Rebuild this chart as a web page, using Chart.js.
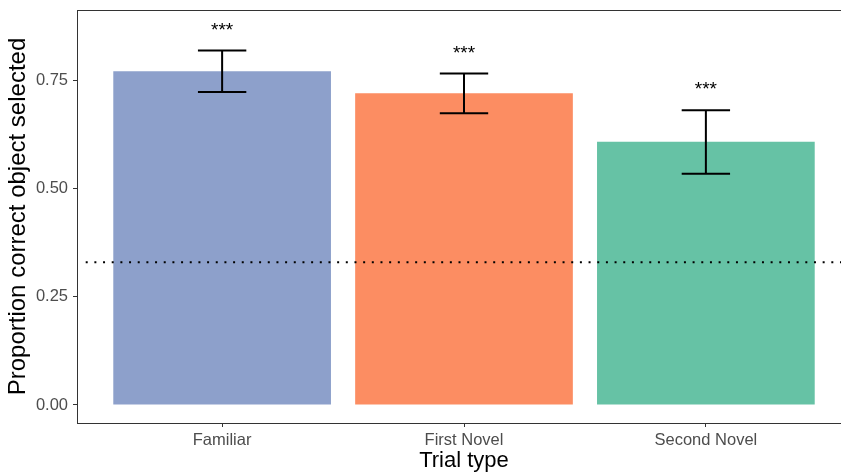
<!DOCTYPE html>
<html>
<head>
<meta charset="utf-8">
<script src="https://cdn.jsdelivr.net/npm/chart.js@4.4.1/dist/chart.umd.min.js"></script>
<style>
  html, body { margin: 0; padding: 0; overflow: hidden; background: #fff; }
  #wrap { width: 860px; height: 476px; position: relative; }
</style>
</head>
<body>
<div id="wrap"><canvas id="c"></canvas></div>
<script>
// ---- data ----
const categories = ['Familiar', 'First Novel', 'Second Novel'];
const proportions = [0.771, 0.720, 0.608];
const errLower = [0.723, 0.674, 0.534];
const errUpper = [0.819, 0.766, 0.681];
const starLabels = ['***', '***', '***'];
const starY = [0.852, 0.799, 0.716];
const chanceLevel = 0.33;
const yTicks = [0, 0.25, 0.5, 0.75];
const barColors = ['#8DA0CB', '#FC8D62', '#66C2A5'];

const positions = categories.map((c, i) => i + 1);

const overlay = {
  id: 'overlay',
  afterDatasetsDraw(chart) {
    const { ctx, chartArea: a, scales: { x, y } } = chart;
    ctx.save();
    // chance line
    ctx.beginPath();
    ctx.setLineDash([2, 6.67]);
    ctx.lineWidth = 2;
    ctx.strokeStyle = '#000';
    const yc = y.getPixelForValue(chanceLevel);
    ctx.moveTo(a.left + 8.7, yc);
    ctx.lineTo(a.right, yc);
    ctx.stroke();
    ctx.setLineDash([]);
    // error bars
    ctx.lineWidth = 2;
    ctx.strokeStyle = '#000';
    positions.forEach((p, i) => {
      const xc = x.getPixelForValue(p);
      const xl = x.getPixelForValue(p - 0.1);
      const xr = x.getPixelForValue(p + 0.1);
      const yl = y.getPixelForValue(errLower[i]);
      const yu = y.getPixelForValue(errUpper[i]);
      ctx.beginPath();
      ctx.moveTo(xc, yl); ctx.lineTo(xc, yu);
      ctx.moveTo(xl, yl); ctx.lineTo(xr, yl);
      ctx.moveTo(xl, yu); ctx.lineTo(xr, yu);
      ctx.stroke();
    });
    // significance stars
    ctx.fillStyle = '#000';
    ctx.font = '19px "Liberation Sans", Arial, sans-serif';
    ctx.textAlign = 'center';
    ctx.textBaseline = 'alphabetic';
    positions.forEach((p, i) => {
      ctx.fillText(starLabels[i], x.getPixelForValue(p), y.getPixelForValue(starY[i]));
    });
    // panel border
    ctx.lineWidth = 1;
    ctx.strokeStyle = '#333333';
    ctx.strokeRect(a.left + 0.5, a.top + 0.5, a.right - a.left, a.bottom - a.top);
    ctx.restore();
  }
};

new Chart(document.getElementById('c'), {
  type: 'bar',
  data: {
    datasets: [{
      data: positions.map((p, i) => ({ x: p, y: proportions[i] })),
      backgroundColor: barColors,
      borderWidth: 0,
      barPercentage: 0.9,
      categoryPercentage: 1.0
    }]
  },
  options: {
    responsive: true,
    maintainAspectRatio: false,
    animation: false,
    events: [],
    layout: { padding: { top: 10, right: 9, left: 0, bottom: 0 } },
    plugins: { legend: { display: false }, tooltip: { enabled: false } },
    scales: {
      x: {
        type: 'linear',
        min: 0.4,
        max: 3.6,
        offset: false,
        afterBuildTicks(s) { s.ticks = positions.map(v => ({ value: v })); },
        afterFit(s) { s.height = 53; s.paddingLeft = 0; s.paddingRight = 0; },
        grid: { offset: false, drawOnChartArea: false, drawTicks: true, tickLength: 4, color: '#333333', lineWidth: 1 },
        border: { display: false },
        ticks: {
          padding: 4,
          color: '#4D4D4D',
          font: { family: '"Liberation Sans", Arial, sans-serif', size: 16.5 },
          maxRotation: 0,
          callback: (v) => categories[Math.round(v) - 1]
        },
        title: {
          display: true,
          text: 'Trial type',
          color: '#000',
          font: { family: '"Liberation Sans", Arial, sans-serif', size: 22, lineHeight: 1 },
          padding: { top: 0, bottom: 4 }
        }
      },
      y: {
        min: -0.0416,
        max: 0.9124,
        afterBuildTicks(s) { s.ticks = yTicks.map(v => ({ value: v })); },
        afterFit(s) { s.width = 77; s.paddingTop = 0; s.paddingBottom = 0; },
        grid: { drawOnChartArea: false, drawTicks: true, tickLength: 4, color: '#333333', lineWidth: 1 },
        border: { display: false },
        ticks: {
          padding: 5,
          color: '#4D4D4D',
          font: { family: '"Liberation Sans", Arial, sans-serif', size: 16.5 },
          callback: (v) => Number(v).toFixed(2)
        },
        title: {
          display: true,
          text: 'Proportion correct object selected',
          color: '#000',
          font: { family: '"Liberation Sans", Arial, sans-serif', size: 24, lineHeight: 1 },
          padding: { top: 6, bottom: 0 }
        }
      }
    }
  },
  plugins: [overlay]
});
</script>
</body>
</html>
